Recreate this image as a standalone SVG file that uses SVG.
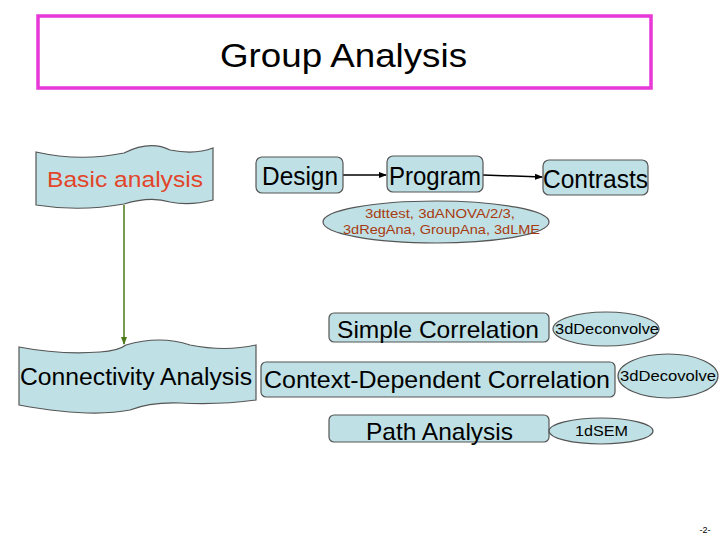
<svg xmlns="http://www.w3.org/2000/svg" width="720" height="540" viewBox="0 0 720 540">
<defs>
<style>
.n{fill:#bfe1e5;stroke:#555;stroke-width:1.2}
.t{font-family:"Liberation Sans",Arial,sans-serif;fill:#000}
.r{font-family:"Liberation Sans",Arial,sans-serif;fill:#a83a10}
</style>
<marker id="a" markerWidth="8" markerHeight="8" refX="7" refY="4" orient="auto" markerUnits="userSpaceOnUse"><path d="M0,1 L8,4 L0,7z" fill="#000"/></marker>
<marker id="g" markerWidth="8" markerHeight="8" refX="7" refY="4" orient="auto" markerUnits="userSpaceOnUse"><path d="M0,1 L8,4 L0,7z" fill="#4a7a1a"/></marker>
</defs>
<rect width="720" height="540" fill="#fff"/>
<g id="title"><rect x="38" y="16" width="613" height="72" fill="#fff" stroke="#e838d8" stroke-width="3.5"/><text class="t" x="220" y="67" font-size="34" textLength="247" lengthAdjust="spacingAndGlyphs">Group Analysis</text></g>
<g id="connectors" fill="none" stroke-width="1.5">
<line x1="124" y1="205" x2="124" y2="344" stroke="#4a7a1a" marker-end="url(#g)"/>
<line x1="343" y1="175" x2="386" y2="175" stroke="#000" marker-end="url(#a)"/>
<line x1="483" y1="175" x2="542" y2="177" stroke="#000" marker-end="url(#a)"/>
</g>
<g id="basic"><path class="n" d="M36,152 Q80,162 124,153 Q150,140 170,150 Q195,155 213,148 L213,200 Q190,206 170,202 Q150,196 124,204 Q80,212 36,205 Z"/><text x="47" y="187" font-size="22" textLength="156" lengthAdjust="spacingAndGlyphs" class="t" style="fill:#e2452a">Basic analysis</text></g>
<g id="design"><rect class="n" x="256" y="157" width="87" height="36" rx="6"/><text class="t" x="262" y="185" font-size="25" textLength="76" lengthAdjust="spacingAndGlyphs">Design</text></g>
<g id="program"><rect class="n" x="387" y="156" width="96" height="36" rx="6"/><text class="t" x="389" y="185" font-size="25" textLength="92" lengthAdjust="spacingAndGlyphs">Program</text></g>
<g id="contrasts"><rect class="n" x="543" y="160" width="105" height="35" rx="6"/><text class="t" x="543" y="188" font-size="25" textLength="105" lengthAdjust="spacingAndGlyphs">Contrasts</text></g>
<g id="programs"><ellipse class="n" cx="436" cy="222" rx="113" ry="21"/><text class="r" x="365" y="218" font-size="13" textLength="150" lengthAdjust="spacingAndGlyphs">3dttest, 3dANOVA/2/3,</text><text class="r" x="343" y="234" font-size="13" textLength="197" lengthAdjust="spacingAndGlyphs">3dRegAna, GroupAna, 3dLME</text></g>
<g id="connectivity"><path class="n" d="M19,347 Q60,355 100,352 Q118,351 126,345 Q160,335 190,345 Q225,352 256,345 L256,400 Q220,405 180,403 Q150,402 130,410 Q90,418 19,405 Z"/><text class="t" x="20" y="385" font-size="23" textLength="232" lengthAdjust="spacingAndGlyphs">Connectivity Analysis</text></g>
<g id="simple"><rect class="n" x="329" y="313" width="220" height="29" rx="5"/><text class="t" x="337" y="338" font-size="24" textLength="202" lengthAdjust="spacingAndGlyphs">Simple Correlation</text></g>
<g id="deconv"><ellipse class="n" cx="606" cy="329" rx="53" ry="17"/><text class="t" x="555" y="334" font-size="14" textLength="104" lengthAdjust="spacingAndGlyphs">3dDeconvolve</text></g>
<g id="context"><rect class="n" x="261" y="362" width="354" height="35" rx="5"/><text class="t" x="264" y="388" font-size="24" textLength="346" lengthAdjust="spacingAndGlyphs">Context-Dependent Correlation</text></g>
<g id="decov"><ellipse class="n" cx="668" cy="376" rx="50" ry="22"/><text class="t" x="620" y="381" font-size="14" textLength="96" lengthAdjust="spacingAndGlyphs">3dDecovolve</text></g>
<g id="path"><rect class="n" x="329" y="415" width="220" height="27" rx="5"/><text class="t" x="366" y="440" font-size="24" textLength="147" lengthAdjust="spacingAndGlyphs">Path Analysis</text></g>
<g id="sem"><ellipse class="n" cx="601" cy="431" rx="52" ry="13"/><text class="t" x="575" y="436" font-size="14" textLength="53" lengthAdjust="spacingAndGlyphs">1dSEM</text></g>
<text class="t" x="705" y="533" font-size="9" text-anchor="middle">-2-</text>
</svg>
